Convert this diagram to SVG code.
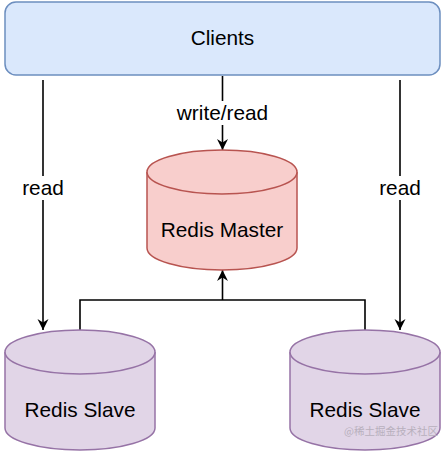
<svg xmlns="http://www.w3.org/2000/svg" width="446" height="452" viewBox="0 0 446 452">
<style>
.lbl{font-family:"Liberation Sans",Arial,Helvetica,sans-serif;font-size:20.8px;fill:#000;text-anchor:middle}
.edge{fill:none;stroke:#000;stroke-width:1.6}
.master{fill:#f8cecc;stroke:#b85450;stroke-width:1.5}
.slave{fill:#e1d5e7;stroke:#9673a6;stroke-width:1.5}
</style>
<defs>
<marker id="arr" markerUnits="userSpaceOnUse" markerWidth="12" markerHeight="12" viewBox="0 0 12 12" refX="11" refY="6" orient="auto">
<path d="M0,0.5 L11,6 L0,11.5 L3.5,6 Z" fill="#000"/>
</marker>
</defs>
<rect width="446" height="452" fill="#fff"/>
<g id="connectors">
<path class="edge" d="M43,80 V330" marker-end="url(#arr)"/>
<path class="edge" d="M400,80 V330" marker-end="url(#arr)"/>
<path class="edge" d="M222.5,76 V150" marker-end="url(#arr)"/>
<path class="edge" d="M80,330 V300 H365 V330"/>
<path class="edge" d="M222.5,300 V270" marker-end="url(#arr)"/>
<rect x="20" y="176" width="46" height="24" fill="#fff"/>
<text class="lbl" x="43" y="195">read</text>
<rect x="377" y="176" width="46" height="24" fill="#fff"/>
<text class="lbl" x="400" y="195">read</text>
<rect x="170" y="101" width="105" height="24" fill="#fff"/>
<text class="lbl" x="222.5" y="120">write/read</text>
</g>
<g id="clients">
<rect x="5" y="2" width="435" height="73" rx="11" ry="11" fill="#dae8fc" stroke="#6c8ebf" stroke-width="1.5"/>
<text class="lbl" x="222.5" y="45">Clients</text>
</g>
<g id="master">
<path class="master" d="M147,172 A75,22 0 0 1 297,172 V248 A75,22 0 0 1 147,248 Z"/>
<path class="master" d="M147,172 A75,22 0 0 0 297,172" fill="none"/>
<text class="lbl" x="222" y="237">Redis Master</text>
</g>
<g id="slave-left">
<path class="slave" d="M5,352 A75,22 0 0 1 155,352 V428 A75,22 0 0 1 5,428 Z"/>
<path class="slave" d="M5,352 A75,22 0 0 0 155,352" fill="none"/>
<text class="lbl" x="80" y="417">Redis Slave</text>
</g>
<g id="slave-right">
<path class="slave" d="M290,352 A75,22 0 0 1 440,352 V428 A75,22 0 0 1 290,428 Z"/>
<path class="slave" d="M290,352 A75,22 0 0 0 440,352" fill="none"/>
<text class="lbl" x="365" y="417">Redis Slave</text>
</g>
<text x="391" y="435" font-family="'Noto Sans CJK SC',sans-serif" font-size="10.5" fill="#b8b0bd" text-anchor="middle">@稀土掘金技术社区</text>
</svg>
